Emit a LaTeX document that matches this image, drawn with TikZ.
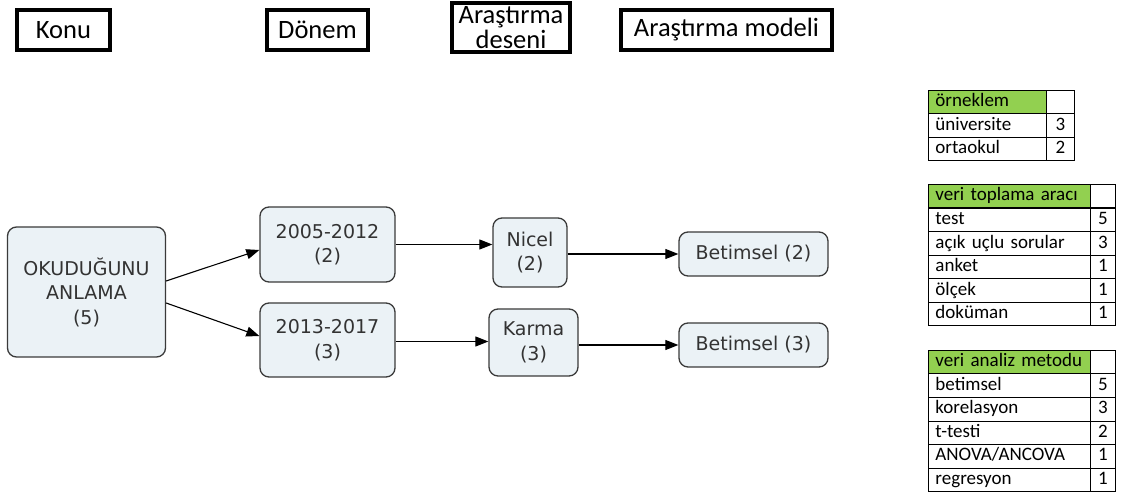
\documentclass[tikz,border=0pt]{standalone}
\usepackage{fontspec}
\setmainfont{DejaVu Sans}
\newfontfamily\calib{Carlito}
\usetikzlibrary{arrows.meta}
\definecolor{nodefill}{HTML}{EBF2F6}
\definecolor{nodeborder}{HTML}{3A3A3A}
\definecolor{textgrey}{HTML}{333333}
\definecolor{hgreen}{HTML}{92D050}
\begin{document}
\begin{tikzpicture}[x=1pt,y=-1pt,
  hdr/.style={draw=black, line width=3.5pt, inner sep=0pt, align=center,
    font=\calib\fontsize{26.5}{24.5}\selectfont},
  mnode/.style={draw=nodeborder, line width=1.3pt, fill=nodefill, rounded corners=9pt,
    align=center, inner sep=0pt, text=textgrey, font=\fontsize{19}{24.5}\selectfont},
  arr/.style={draw=black, line width=1.1pt, -{Triangle[length=13pt,width=10pt]}},
  tcell/.style={draw=black, line width=0.9pt, anchor=north west, minimum height=23.5pt,
    inner ysep=0pt, text height=13.5pt, text depth=4pt, font=\calib\fontsize{19}{22}\selectfont},
  lcell/.style={tcell, inner xsep=7pt, text width=#1, align=left},
  rcell/.style={tcell, inner xsep=0pt, minimum width=#1, align=center}
]
\useasboundingbox (0,0) rectangle (1125,494);

% header boxes
\node[hdr, minimum width=93pt, minimum height=40pt] (konu) at (63.5,30) {Konu};
\node[hdr, minimum width=101pt, minimum height=40pt] (donem) at (317.5,30) {Dönem};
\node[hdr, minimum width=118pt, minimum height=49pt] (desen) at (511,27.5) {Araştırma\\deseni};
\node[hdr, minimum width=211pt, minimum height=40pt] (model) at (726.5,30) {Araştırma modeli};

% main nodes
\node[mnode, minimum width=158pt, minimum height=130pt] (oku) at (86.5,292) {OKUDUĞUNU\\ANLAMA\\(5)};
\node[mnode, minimum width=135pt, minimum height=75pt] (p1) at (327.5,244.5) {2005-2012\\(2)};
\node[mnode, minimum width=135pt, minimum height=74pt] (p2) at (327.5,340) {2013-2017\\(3)};
\node[mnode, minimum width=74pt, minimum height=69pt] (nicel) at (530,252.5) {Nicel\\(2)};
\node[mnode, minimum width=89pt, minimum height=67pt] (karma) at (533.5,342.5) {Karma\\(3)};
\node[mnode, minimum width=149pt, minimum height=44pt] (b2) at (753.5,254) {Betimsel (2)};
\node[mnode, minimum width=149pt, minimum height=44pt] (b3) at (753.5,345) {Betimsel (3)};

% connectors
\coordinate (p2out) at ([yshift=-1.5pt]p2.east);
\draw[arr] ([yshift=11pt]oku.east) -- ([yshift=-5.5pt]p1.west);
\draw[arr] ([yshift=-11pt]oku.east) -- ([yshift=4pt]p2.west);
\draw[arr] (p1.east) -- (nicel.west |- p1.east);
\draw[arr] (p2out) -- (karma.west |- p2out);
\draw[arr] (nicel.east |- b2.west) -- (b2.west);
\draw[arr] (karma.east |- b3.west) -- (b3.west);

% table 1
\node[lcell=104pt, fill=hgreen] (t1h) at (928,90) {örneklem};
\node[rcell=28pt] (t1hn) at (1046,90) {};
\foreach \lab/\num [count=\i] in {üniversite/3,ortaokul/2} {
  \node[lcell=104pt] (t1r\i) at (928,90+23.5*\i) {\lab};
  \node[rcell=28pt] (t1n\i) at (1046,90+23.5*\i) {\num};
}

% table 2
\node[lcell=148pt, fill=hgreen] (t2h) at (928,184) {veri toplama aracı};
\node[rcell=25pt] (t2hn) at (1090,184) {};
\foreach \lab/\num [count=\i] in {test/5,açık uçlu sorular/3,anket/1,ölçek/1,doküman/1} {
  \node[lcell=148pt] (t2r\i) at (928,184+23.6*\i) {\lab};
  \node[rcell=25pt] (t2n\i) at (1090,184+23.6*\i) {\num};
}

% table 3
\node[lcell=148pt, fill=hgreen] (t3h) at (928,350) {veri analiz metodu};
\node[rcell=25pt] (t3hn) at (1090,350) {};
\foreach \lab/\num [count=\i] in {betimsel/5,korelasyon/3,t-testi/2,{ANOVA/ANCOVA}/1,regresyon/1} {
  \node[lcell=148pt] (t3r\i) at (928,350+23.5*\i) {\lab};
  \node[rcell=25pt] (t3n\i) at (1090,350+23.5*\i) {\num};
}
\end{tikzpicture}
\end{document}
